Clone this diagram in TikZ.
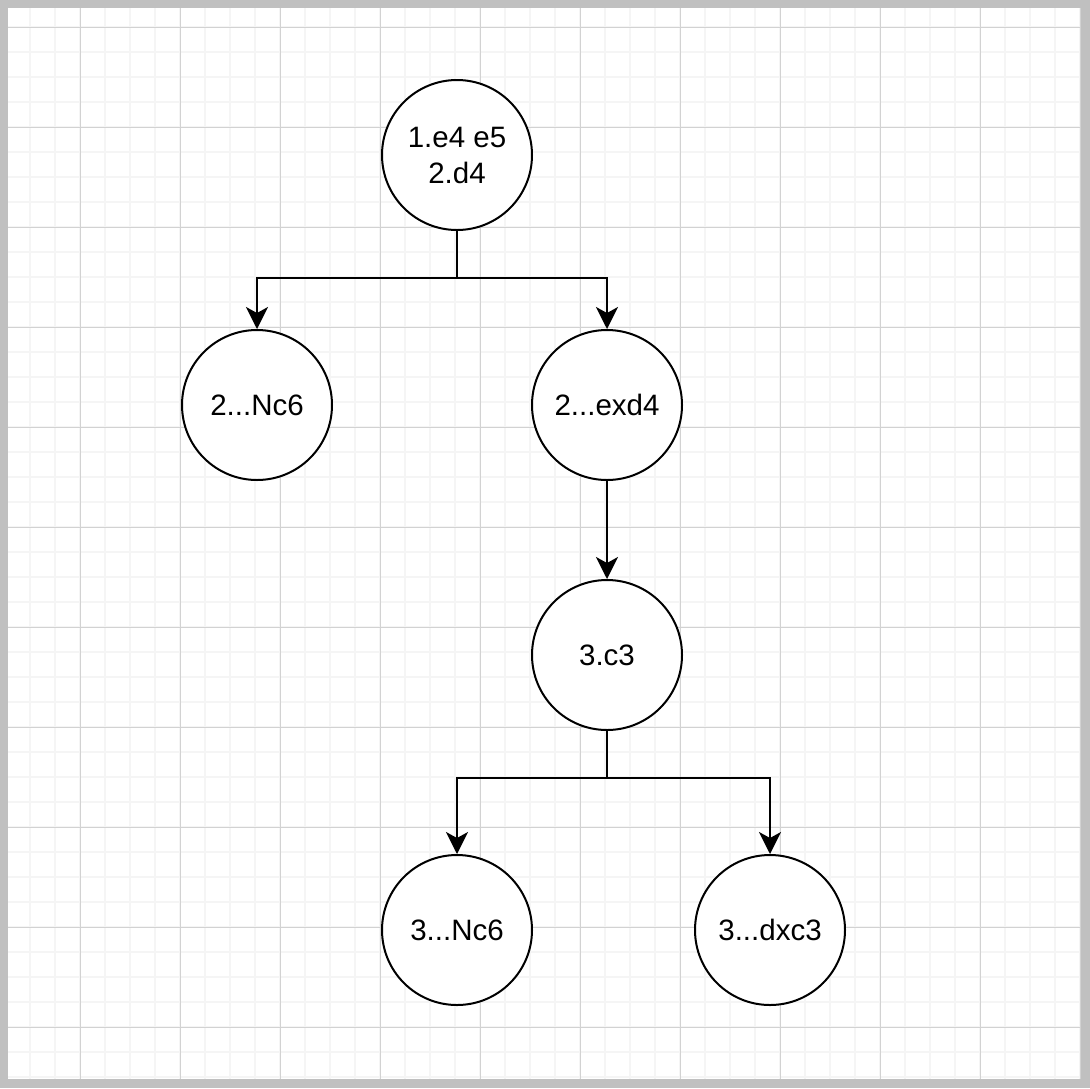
\documentclass[tikz,border=0pt]{standalone}
\usepackage{fontspec}
\setmainfont{Liberation Sans}
\usetikzlibrary{arrows.meta}
\definecolor{bordergray}{RGB}{192,192,192}
\definecolor{majorgrid}{RGB}{210,210,210}
\definecolor{minorgrid}{RGB}{245,245,245}
\tikzset{
  move/.style={circle, draw=black, line width=2pt, fill=white, minimum size=150pt, inner sep=0pt, align=center, font=\fontsize{29.5}{36}\selectfont},
  link/.style={draw=black, line width=2pt},
  arrowlink/.style={link, -{Stealth[length=22pt, width=22pt, inset=6pt]}}
}
\begin{document}
\begin{tikzpicture}[x=1pt, y=-1pt]
  \useasboundingbox (0,0) rectangle (1090,1088);
  \fill[bordergray] (0,0) rectangle (1090,1088);
  \fill[white] (8,8) rectangle (1081,1079);
  \begin{scope}
    \clip (8,8) rectangle (1081,1079);
    \foreach \k in {1,...,43} {
      \draw[minorgrid, line width=1.5pt] ({5+25*\k},8) -- ({5+25*\k},1079);
    }
    \foreach \k in {0,...,43} {
      \draw[minorgrid, line width=1.5pt] (8,{2+25*\k}) -- (1081,{2+25*\k});
    }
    \foreach \k in {0,...,10} {
      \draw[majorgrid, line width=1pt] ({80+100*\k},8) -- ({80+100*\k},1079);
      \draw[majorgrid, line width=1pt] (8,{27+100*\k}) -- (1081,{27+100*\k});
    }
  \end{scope}

  \node[move] (a) at (457,155) {1.e4 e5\\2.d4};
  \node[move] (b) at (257,405) {2...Nc6};
  \node[move] (c) at (607,405) {2...exd4};
  \node[move] (d) at (607,655) {3.c3};
  \node[move] (e) at (457,930) {3...Nc6};
  \node[move] (f) at (770,930) {3...dxc3};

  \coordinate (j1) at (457,278);
  \coordinate (j2) at (607,778);

  \draw[link] (a.south) -- (j1);
  \draw[arrowlink] (j1) -| (b.north);
  \draw[arrowlink] (j1) -| (c.north);
  \draw[arrowlink] (c.south) -- (d.north);
  \draw[link] (d.south) -- (j2);
  \draw[arrowlink] (j2) -| (e.north);
  \draw[arrowlink] (j2) -| (f.north);
\end{tikzpicture}
\end{document}
